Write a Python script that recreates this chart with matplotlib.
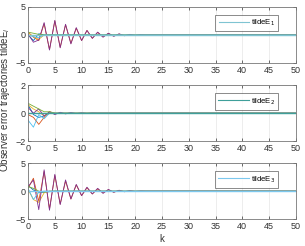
import matplotlib
matplotlib.use('Agg')
import matplotlib.pyplot as plt
from matplotlib.lines import Line2D
import numpy as np

plt.rcParams['font.family'] = ['Liberation Sans', 'DejaVu Sans']

k = np.arange(0, 51)

# early values of each trajectory (the rest of the 51 steps are ~0)
e1_blue   = [0.0, -1.0, 0.2, 0.0, 0.05]
e1_orange = [0.5, -0.4, -1.0, 2.0, -2.6, 2.5, -2.2, 1.8, -1.5, 1.2, -1.0, 0.8, -0.6, 0.45, -0.35, 0.28, -0.2, 0.15, -0.1, 0.08, -0.05, 0.03]
e1_yellow = [0.4, -0.3, -0.8, 0.0, 0.05]
e1_purple = [0.2, -1.3, -0.9, 2.2, -2.7, 2.6, -2.3, 1.9, -1.6, 1.3, -1.0, 0.8, -0.6, 0.5, -0.4, 0.3, -0.25, 0.2, -0.15, 0.1, -0.08, 0.05]
e1_green  = [0.5, 0.3, 0.1, 0.0]
e1_cyan   = [0.0, -0.3, -0.5, 0.0]

e2_blue   = [0.6, -0.1, -0.3, -0.2, 0.0]
e2_orange = [-0.1, -0.3, -0.8, -0.3, 0.1, 0.0]
e2_yellow = [0.6, 0.3, 0.1, -0.2, 0.0]
e2_purple = [0.4, 0.0, 0.3, -0.2, 0.1, -0.1, 0.06, -0.05, 0.04, -0.03, 0.02, -0.02, 0.01]
e2_green  = [0.7, 0.5, 0.3, 0.1, 0.1, 0.0]
e2_cyan   = [-0.5, -1.0, -0.1, -0.4, 0.0]

e3_blue   = [1.0, 0.2, -0.2, -0.2, -0.1, 0.0]
e3_orange = [0.5, 2.3, -1.8, 3.5, -3.2, 2.8, -2.3, 1.8, -1.4, 1.1, -0.8, 0.6, -0.5, 0.4, -0.3, 0.25, -0.2, 0.15, -0.1, 0.07, -0.05]
e3_yellow = [0.3, -1.5, -2.0, -0.3, 0.0]
e3_purple = [0.8, 2.0, -3.3, 3.8, -3.4, 3.0, -2.4, 2.0, -1.4, 1.2, -0.8, 0.7, -0.5, 0.5, -0.4, 0.3, -0.2, 0.15, -0.1, 0.08, -0.05, 0.03]
e3_green  = [0.8, 0.5, 0.0, -0.2, 0.0]
e3_cyan   = [0.5, -1.5, -0.2, 0.0]

panels = [
    ([e1_blue, e1_orange, e1_yellow, e1_purple, e1_green, e1_cyan], 5, 'tildeE$_1$', '#7fc4d2'),
    ([e2_blue, e2_orange, e2_yellow, e2_purple, e2_green, e2_cyan], 2, 'tildeE$_2$', '#3f9f9a'),
    ([e3_blue, e3_orange, e3_yellow, e3_purple, e3_green, e3_cyan], 5, 'tildeE$_3$', '#7cc8ee'),
]
colors = ['#0072BD', '#D95319', '#EDB120', '#7E2F8E', '#77AC30', '#4DBEEE']

def pad(vals):
    out = np.zeros(len(k))
    out[:len(vals)] = vals
    return out

fig = plt.figure(figsize=(3.05, 2.46), dpi=100)
tops = [0.972, 0.654, 0.337]
h = 0.228
axes = []
for (series, lim, lab, lcol), top in zip(panels, tops):
    ax = fig.add_axes([0.092, top - h, 0.878, h])
    for s, c in zip(series, colors):
        ax.plot(k, pad(s), color=c, lw=0.6)
    ax.plot(k, np.zeros(len(k)), color=lcol, lw=1.0)
    ax.set_xlim(0, 50)
    ax.set_ylim(-lim, lim)
    ax.set_xticks(np.arange(0, 51, 5))
    ax.set_yticks([-lim, 0, lim])
    ax.grid(True, color='#e6e6e6', lw=0.5)
    ax.set_axisbelow(True)
    ax.tick_params(direction='in', length=2, width=0.5, labelsize=6.5,
                   colors='#333333', pad=2, top=True, right=True)
    for sp in ax.spines.values():
        sp.set_color('#777777')
        sp.set_linewidth(0.6)
    leg = ax.legend([Line2D([0], [0], color=lcol, lw=0.8)], [lab],
                    loc='upper right', bbox_to_anchor=(0.935, 0.86),
                    fontsize=5.5, frameon=True, fancybox=False, handlelength=4,
                    borderpad=0.4, handletextpad=0.3, borderaxespad=0)
    leg.get_frame().set_edgecolor('#333333')
    leg.get_frame().set_linewidth(0.5)
    axes.append(ax)

axes[2].set_xlabel('k', fontsize=7, color='#333333', labelpad=2)
fig.text(0.018, 0.595, 'Observer error trajectories tildeE$_i$', rotation=90,
         ha='center', va='center', fontsize=7, color='#333333')

fig.savefig('out.png', dpi=100)
